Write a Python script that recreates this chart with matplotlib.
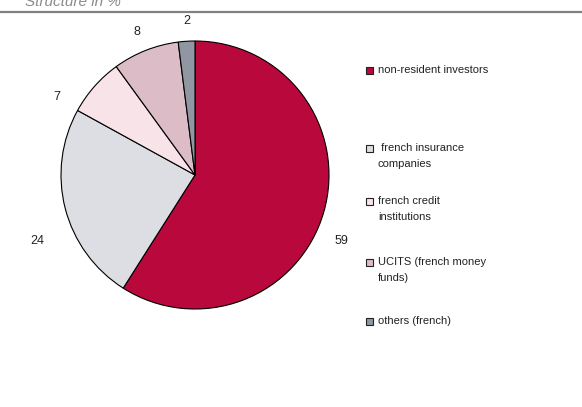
import matplotlib
matplotlib.use("Agg")
import matplotlib.pyplot as plt
from matplotlib.patches import Rectangle

# Holders of the debt, in %
holders = ["non-resident investors", " french insurance\ncompanies",
           "french credit\ninstitutions", "UCITS (french money\nfunds)",
           "others (french)"]
shares = [59, 24, 7, 8, 2]
colors = ["#B9083C", "#DDDEE3", "#F8E4E8", "#DCBCC6", "#9197A2"]

W, H = 582, 407
fig = plt.figure(figsize=(W / 100, H / 100), dpi=100)
plt.rcParams["font.family"] = ["Liberation Sans", "DejaVu Sans"]

def px(x, y):
    return x / W, 1 - y / H

# title, mostly cut off by the top edge, and the rule under it
fig.text(*px(25, 2), "Structure in %", fontsize=11, style="italic",
         color="#8a8a8a", va="center", ha="left")
fig.add_artist(plt.Line2D([0, 1], [1 - 11.5 / H] * 2, color="#808080", lw=1.6))

# pie
cx, cy, r = 195, 175, 134
ax = fig.add_axes([(cx - r) / W, 1 - (cy + r) / H, 2 * r / W, 2 * r / H])
wedges, texts = ax.pie(shares, colors=colors, startangle=90, counterclock=False,
                       labels=[str(v) for v in shares], labeldistance=1.12,
                       wedgeprops=dict(edgecolor="black", linewidth=0.8),
                       textprops=dict(fontsize=9, color="#222222"))
ax.set_xlim(-1, 1)
ax.set_ylim(-1, 1)
ax.set_aspect("auto")
ax.axis("off")

# value labels sit where the spreadsheet put them, not on the bisectors
label_px = [(341, 241), (37, 241), (57, 97), (137, 32), (187, 21)]
for t, (lx, ly) in zip(texts, label_px):
    t.set_position(((lx - cx) / r, (cy - ly) / r))
    t.set_ha("center")
    t.set_va("center")

# legend drawn by hand so the uneven gaps can be kept
rows = [70, 148, 201, 262, 321]
for w, label, y in zip(wedges, holders, rows):
    x0, y0 = px(366, y + 4)
    fig.add_artist(Rectangle((x0, y0), 7 / W, 7 / H, transform=fig.transFigure,
                             facecolor=w.get_facecolor(), edgecolor="#222222", lw=0.8))
    fig.text(*px(378, y - 5), label, fontsize=8, color="#222222",
             va="top", ha="left", linespacing=1.75)

fig.savefig("out.png", dpi=100)
